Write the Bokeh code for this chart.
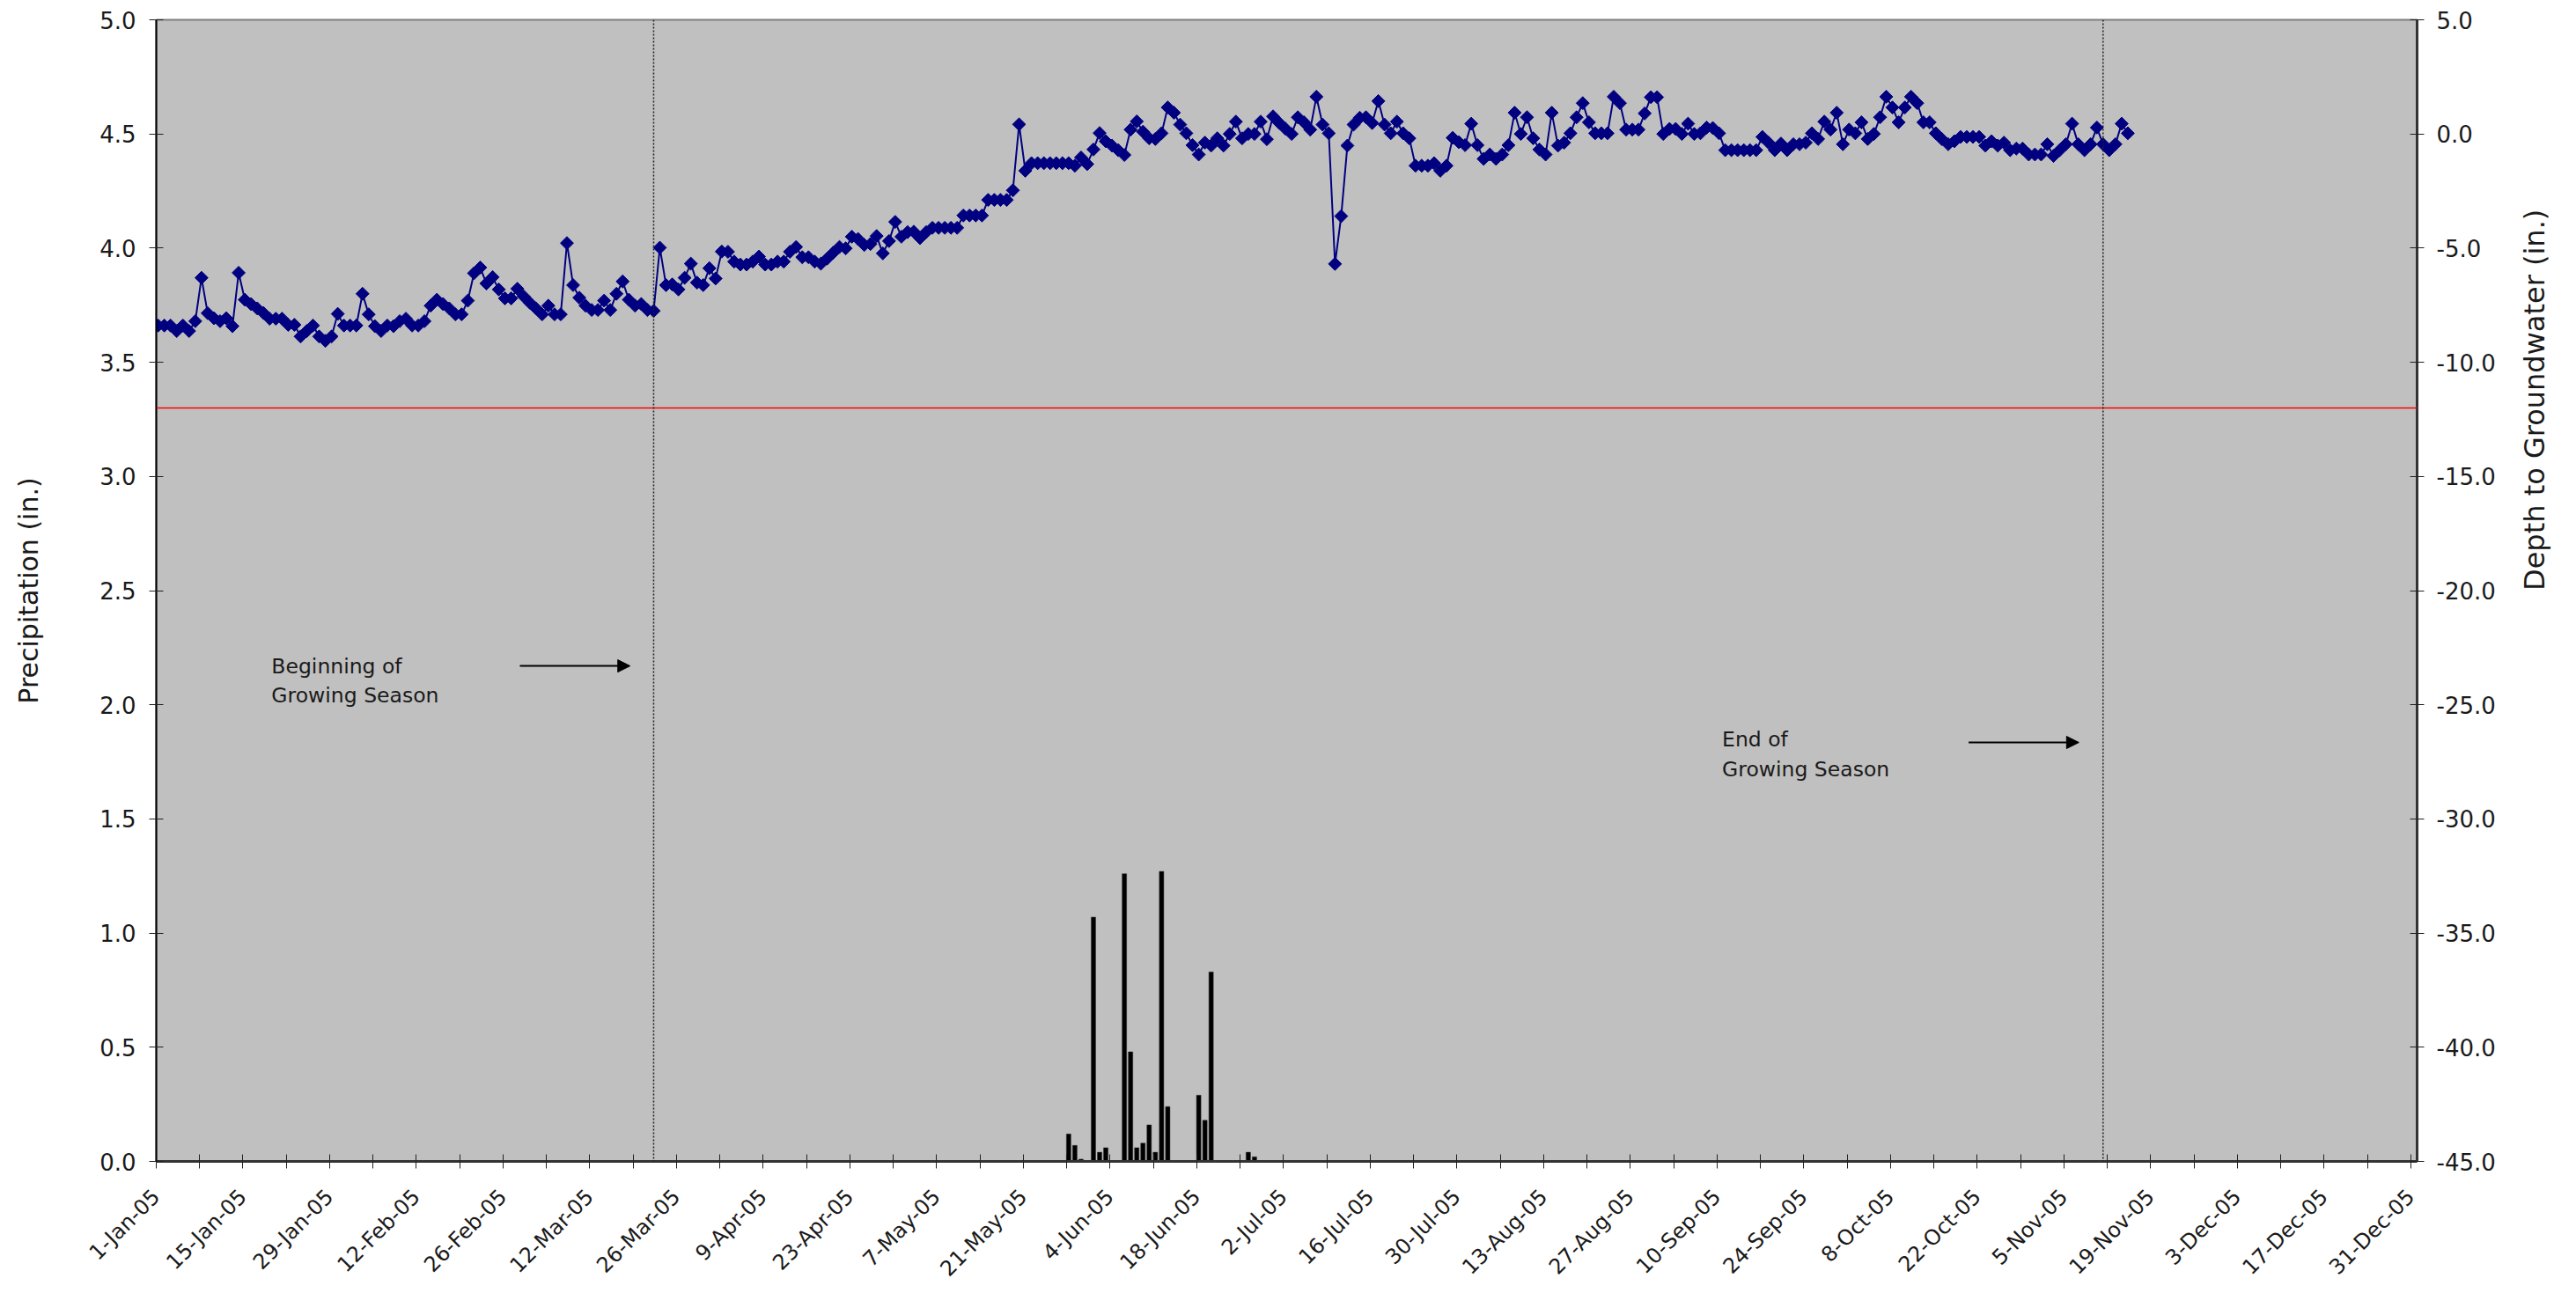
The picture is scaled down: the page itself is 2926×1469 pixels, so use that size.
import math
import pandas as pd
from bokeh.plotting import figure
from bokeh.models import (Range1d, LinearAxis, FixedTicker, NumeralTickFormatter,
                          Span, Label, Arrow, NormalHead, ColumnDataSource)
from bokeh.embed import file_html
from bokeh.resources import INLINE

# ---------------- data ----------------
year_start = "2005-01-01"

# depth to groundwater (in.), daily from 1-Jan-05
gw_depth = [
    -8.39, -8.39, -8.39, -8.63, -8.39, -8.63, -8.20, -6.30, -7.85, -8.07, -8.20, -8.07, -8.42,
    -6.08, -7.26, -7.45, -7.64, -7.84, -8.09, -8.09, -8.09, -8.36, -8.36, -8.87, -8.63, -8.39, -8.87, -9.06, -8.87, -7.88,
    -8.39, -8.39, -8.39, -7.00, -7.90, -8.42, -8.63, -8.39, -8.42, -8.20, -8.09, -8.39, -8.39, -8.20, -7.52, -7.26, -7.45, -7.64, -7.90, -7.90,
    -7.30, -6.10, -5.85, -6.55, -6.27, -6.81, -7.20, -7.20, -6.78, -7.11, -7.39, -7.64, -7.90, -7.52, -7.90, -7.90, -4.78, -6.62, -7.17, -7.52,
    -7.71, -7.71, -7.30, -7.71, -7.00, -6.46, -7.26, -7.52, -7.45, -7.71, -7.75,
    -4.98, -6.62, -6.59, -6.81, -6.30, -5.68, -6.51, -6.62, -5.88, -6.33, -5.15, -5.16, -5.59, -5.72, -5.72, -5.59, -5.37, -5.72, -5.72,
    -5.59, -5.59, -5.16, -4.95, -5.40, -5.40, -5.59, -5.68, -5.46, -5.20, -4.95, -5.01, -4.50, -4.60, -4.86, -4.82, -4.47, -5.23, -4.69, -3.85,
    -4.50, -4.30, -4.28, -4.56, -4.30, -4.11, -4.11, -4.11, -4.11, -4.11, -3.57, -3.57, -3.57, -3.57, -2.89, -2.89, -2.89, -2.89, -2.47, 0.42,
    -1.61, -1.28, -1.28, -1.28, -1.28, -1.28, -1.28, -1.28, -1.39, -1.03, -1.32, -0.68, 0.04, -0.32, -0.51, -0.71, -0.92, 0.19, 0.55, 0.10,
    -0.19, -0.22, 0.03, 1.16, 0.93, 0.41, 0.03, -0.49, -0.90, -0.38, -0.51, -0.19, -0.51, 0.00, 0.54, -0.19, 0.00, 0.00, 0.54, -0.23,
    0.77, 0.48, 0.23, 0.00, 0.73, 0.51, 0.19, 1.63, 0.41, 0.03, -5.69, -3.60, -0.51, 0.41, 0.71, 0.73, 0.48, 1.44, 0.41, 0.03,
    0.54, 0.03, -0.19, -1.39, -1.39, -1.39, -1.28, -1.61, -1.39, -0.17, -0.36, -0.49, 0.45, -0.49, -1.09, -0.90, -1.09, -0.90, -0.49, 0.93,
    0.00, 0.73, -0.19, -0.68, -0.90, 0.93, -0.51, -0.38, 0.03, 0.73, 1.35, 0.51, 0.03, 0.03, 0.03, 1.63, 1.35, 0.19, 0.19, 0.19,
    0.90, 1.61, 1.61, 0.00, 0.22, 0.22, 0.00, 0.45, 0.00, 0.03, 0.28, 0.26, 0.03, -0.71, -0.71, -0.71, -0.71, -0.71, -0.71, -0.13,
    -0.38, -0.71, -0.42, -0.71, -0.45, -0.45, -0.38, 0.03, -0.22, 0.54, 0.19, 0.93, -0.45, 0.19, 0.03, 0.51, -0.22, 0.00, 0.73, 1.63,
    1.16, 0.51, 1.16, 1.63, 1.35, 0.51, 0.51, 0.03, -0.23, -0.45, -0.32, -0.13, -0.13, -0.13, -0.13, -0.51, -0.32, -0.51, -0.38, -0.71,
    -0.64, -0.64, -0.90, -0.90, -0.90, -0.45, -0.96, -0.71, -0.45, 0.45, -0.45, -0.71, -0.45, 0.28, -0.45, -0.71, -0.45, 0.45, 0.03,
]

# daily precipitation (in.)
precip_dates = ["2005-05-28", "2005-05-29", "2005-05-30", "2005-06-01", "2005-06-02", "2005-06-03",
                "2005-06-06", "2005-06-07", "2005-06-08", "2005-06-09", "2005-06-10", "2005-06-11",
                "2005-06-12", "2005-06-13", "2005-06-18", "2005-06-19", "2005-06-20", "2005-06-26",
                "2005-06-27"]
precip_in = [0.12, 0.07, 0.01, 1.07, 0.04, 0.06,
             1.26, 0.48, 0.06, 0.08, 0.16, 0.04,
             1.27, 0.24, 0.29, 0.18, 0.83, 0.04,
             0.02]

root_zone_depth = -12.0
season_start = "2005-03-22"
season_end = "2005-11-11"

x_tick_labels = ["1-Jan-05", "15-Jan-05", "29-Jan-05", "12-Feb-05", "26-Feb-05", "12-Mar-05",
                 "26-Mar-05", "9-Apr-05", "23-Apr-05", "7-May-05", "21-May-05", "4-Jun-05",
                 "18-Jun-05", "2-Jul-05", "16-Jul-05", "30-Jul-05", "13-Aug-05", "27-Aug-05",
                 "10-Sep-05", "24-Sep-05", "8-Oct-05", "22-Oct-05", "5-Nov-05", "19-Nov-05",
                 "3-Dec-05", "17-Dec-05", "31-Dec-05"]
precip_ticks = [0.0, 0.5, 1.0, 1.5, 2.0, 2.5, 3.0, 3.5, 4.0, 4.5, 5.0]
depth_ticks = [-45.0, -40.0, -35.0, -30.0, -25.0, -20.0, -15.0, -10.0, -5.0, 0.0, 5.0]

# ---------------- helpers ----------------
t0 = pd.Timestamp(year_start)
OFF = 0.3  # category position within a day


def day_pos(dates):
    return [(pd.Timestamp(d) - t0).days + OFF for d in dates]


gw_dates = pd.date_range(t0, periods=len(gw_depth), freq="D")
gw_src = ColumnDataSource(dict(x=day_pos(gw_dates), y=gw_depth))
pr_src = ColumnDataSource(dict(x=day_pos(precip_dates), top=precip_in))

tick_days = [14 * i for i in range(len(x_tick_labels))]
minor_days = [d + 7 for d in tick_days[:-1]]

FONT = "DejaVu Sans"
TXT = "#1a1a1a"

p = figure(frame_width=2568, frame_height=1297,
           x_range=Range1d(0, 365), y_range=Range1d(0, 5),
           output_backend="svg", toolbar_location=None,
           min_border_left=177, min_border_right=173,
           min_border_top=22, min_border_bottom=146)
p.extra_y_ranges = {"depth": Range1d(-45, 5)}

p.background_fill_color = "#C0C0C0"
p.border_fill_color = "white"
p.outline_line_color = "#7f7f7f"
p.outline_line_width = 2
p.xgrid.visible = False
p.ygrid.visible = False

# x axis
xa = p.xaxis[0]
xa.ticker = FixedTicker(ticks=tick_days, minor_ticks=minor_days)
xa.major_label_overrides = {d: lab for d, lab in zip(tick_days, x_tick_labels)}
xa.major_label_orientation = math.pi / 4
xa.major_label_text_font = FONT
xa.major_label_text_font_size = "24px"
xa.major_label_text_color = TXT
xa.major_label_standoff = 28
xa.major_tick_in = 8
xa.major_tick_out = 8
xa.minor_tick_in = 8
xa.minor_tick_out = 8
xa.major_tick_line_color = "#222222"
xa.minor_tick_line_color = "#222222"
xa.axis_line_color = "#333333"
xa.axis_line_width = 3

# left axis
ya = p.yaxis[0]
ya.ticker = FixedTicker(ticks=precip_ticks, minor_ticks=[])
ya.formatter = NumeralTickFormatter(format="0.0")
ya.axis_label = "Precipitation (in.)"
ya.axis_label_text_font = FONT
ya.axis_label_text_font_size = "30px"
ya.axis_label_text_font_style = "normal"
ya.axis_label_text_color = TXT
ya.axis_label_standoff = 60
ya.major_label_text_font = FONT
ya.major_label_text_font_size = "26px"
ya.major_label_text_color = TXT
ya.major_label_standoff = 15
ya.major_tick_in = 8
ya.major_tick_out = 8
ya.major_tick_line_color = "#222222"
ya.axis_line_color = "black"
ya.axis_line_width = 2

# right axis
ra_kwargs = dict(y_range_name="depth",
                 ticker=FixedTicker(ticks=depth_ticks, minor_ticks=[]),
                 formatter=NumeralTickFormatter(format="0.0"),
                 axis_label="Depth to Groundwater (in.)",
                 axis_label_text_font=FONT, axis_label_text_font_size="32px",
                 axis_label_text_font_style="normal", axis_label_text_color=TXT,
                 axis_label_standoff=41,
                 major_label_text_font=FONT, major_label_text_font_size="26px",
                 major_label_text_color=TXT, major_label_standoff=14,
                 major_tick_in=8, major_tick_out=8, major_tick_line_color="#222222",
                 axis_line_color="#333333", axis_line_width=3)
if "axis_label_orientation" in LinearAxis.properties():
    ra_kwargs["axis_label_orientation"] = math.pi / 2
ra = LinearAxis(**ra_kwargs)
p.add_layout(ra, "right")

# precipitation bars
p.vbar(x="x", top="top", bottom=0, width=0.72, source=pr_src,
       fill_color="black", line_color="#303030", line_width=0.5)

# groundwater series
p.line(x="x", y="y", source=gw_src, y_range_name="depth",
       line_color="#000080", line_width=2)
p.scatter(x="x", y="y", source=gw_src, y_range_name="depth",
          marker="square", angle=math.pi / 4, size=10.5,
          fill_color="#000080", line_color="#000080")

# reference lines
p.add_layout(Span(location=root_zone_depth, dimension="width", y_range_name="depth",
                  line_color="#ff0000", line_width=1.5))
for d in (season_start, season_end):
    p.add_layout(Span(location=day_pos([d])[0], dimension="height",
                      line_color="#202020", line_width=1.5, line_dash="2 2"))

# annotations
def note(x, y, text):
    p.add_layout(Label(x=x, y=y, text=text, text_font=FONT, text_font_size="23.5px",
                       text_color=TXT, text_baseline="middle", text_align="left"))

note(18.6, 2.170, "Beginning of")
note(18.6, 2.043, "Growing Season")
note(252.8, 1.847, "End of")
note(252.8, 1.719, "Growing Season")

p.add_layout(Arrow(end=NormalHead(size=14, fill_color="black", line_color="black"),
                   x_start=58.7, y_start=2.17, x_end=76.5, y_end=2.17,
                   line_color="black", line_width=2))
p.add_layout(Arrow(end=NormalHead(size=14, fill_color="black", line_color="black"),
                   x_start=292.6, y_start=1.835, x_end=310.4, y_end=1.835,
                   line_color="black", line_width=2))

open("out.html", "w").write(file_html(p, INLINE))
